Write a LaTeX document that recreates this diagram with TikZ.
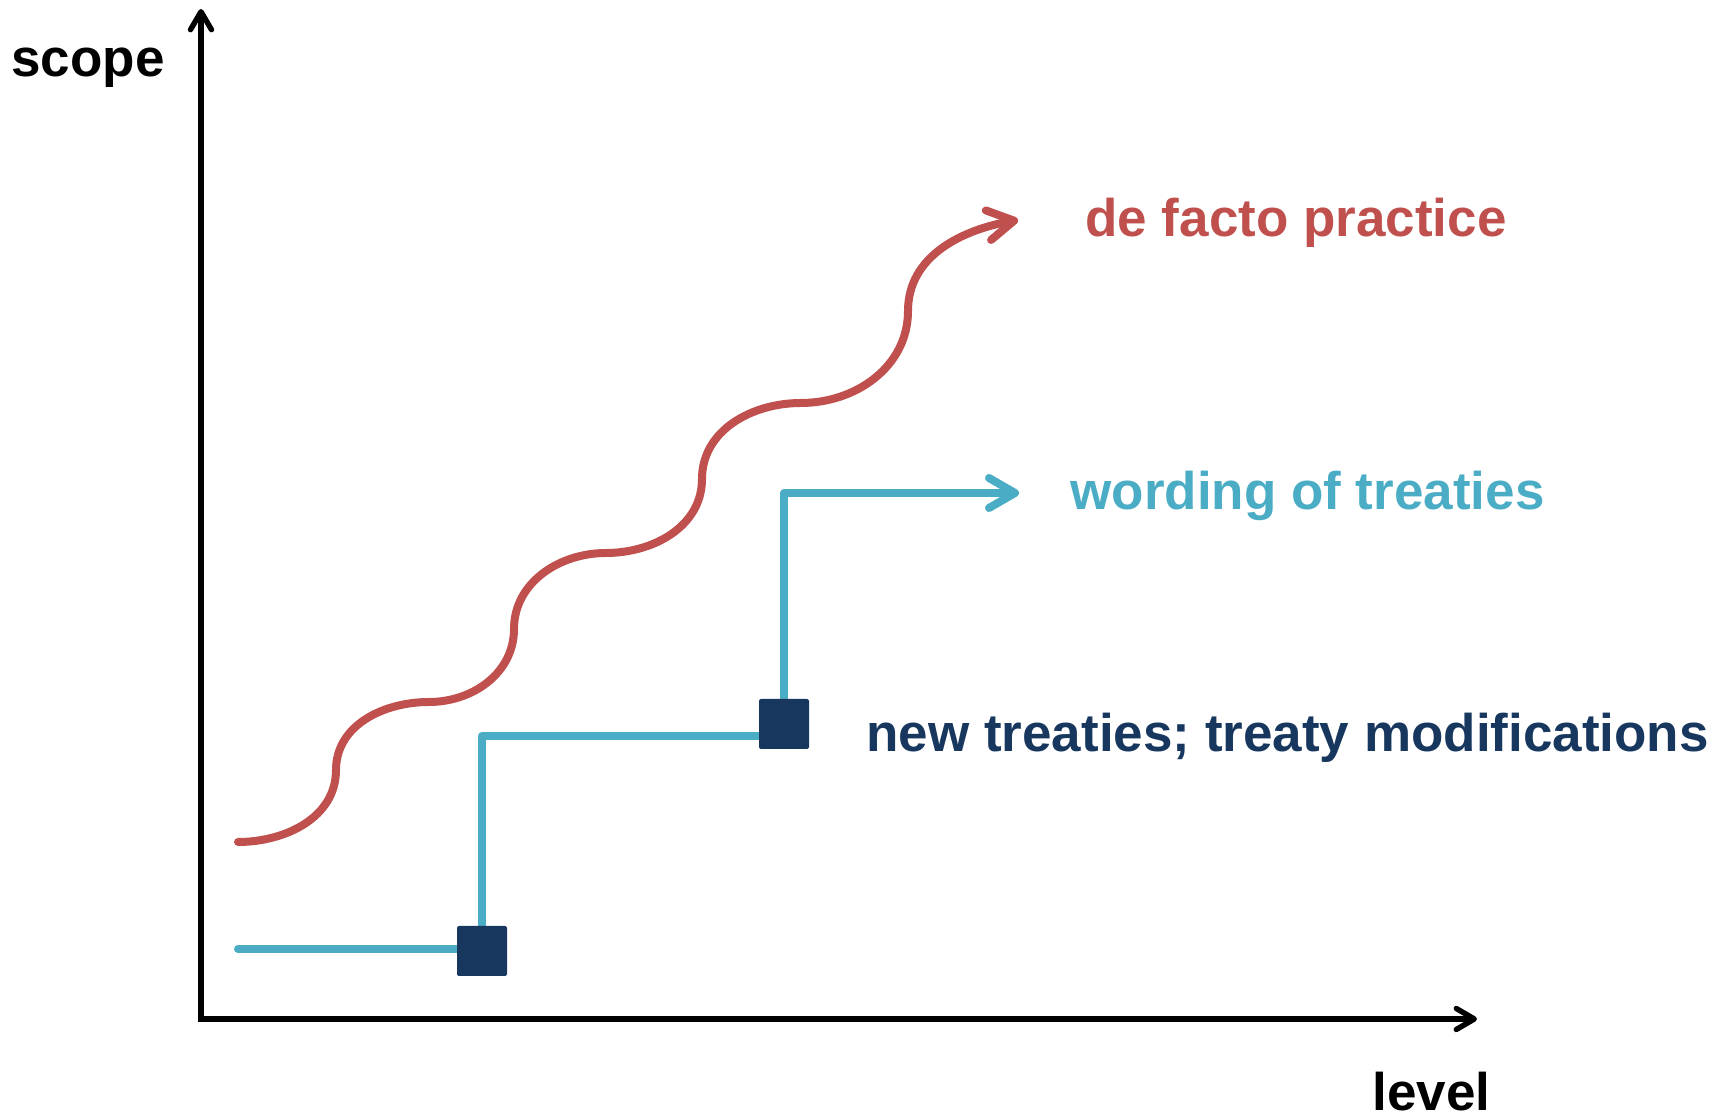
\documentclass[tikz,border=0pt]{standalone}
\usepackage{fontspec}
\setmainfont{Liberation Sans}
\usetikzlibrary{arrows.meta,backgrounds}
\definecolor{brick}{RGB}{192, 80, 77}
\definecolor{sky}{RGB}{75, 172, 198}
\definecolor{ink}{RGB}{23, 55, 94}

\begin{document}
\begin{tikzpicture}[
        x=0.5pt, y=0.5pt,
        lbl/.style={inner sep=0pt, anchor=base west,
            font=\bfseries\fontsize{26.5}{30}\selectfont},
        axis/.style={draw=black, line width=2.7pt, line cap=round, line join=miter,
            {Straight Barb[length=9pt, width=10.5pt, round]}-{Straight Barb[length=9pt, width=10.5pt, round]}},
        practice/.style={draw=brick, line width=4pt, line cap=round,
            -{Straight Barb[length=13pt, width=15pt, round]}},
        wording/.style={draw=sky, line width=4pt, line cap=round, line join=round,
            -{Straight Barb[length=13pt, width=15pt, round]}},
        treatybox/.style={fill=ink, minimum size=25pt, inner sep=0pt,
            rounded corners=1pt}
    ]
    \useasboundingbox (0,0) rectangle (1725,1119);

    % axes
    \coordinate (origin) at (201,100);
    \coordinate (ytop) at (201,1110);
    \coordinate (xend) at (1477,100);
    \draw[axis] (ytop) -- (origin) -- (xend);
    \node[lbl] (scopelbl) at (11,1042) {scope};
    \node[lbl] (levellbl) at (1372,8) {level};

    % de facto practice
    \coordinate (pstart) at (238,277);
    \coordinate (ptip) at (1018,899);
    \draw[practice] (pstart)
        to[out=0, in=-90] (336,349)
        to[out=90, in=180] (429,417)
        to[out=0, in=-90] (514,490)
        to[out=90, in=180] (606,566)
        to[out=0, in=-90] (702,640)
        to[out=90, in=180] (801,716)
        to[out=0, in=-90] (908,808)
        to[out=90, in=190] (ptip);
    \node[lbl, text=brick] (practicelbl) at (1085,882) {de facto practice};

    % wording of treaties
    \node[treatybox] (sqA) at (482,168) {};
    \node[treatybox] (sqB) at (784,395) {};
    \coordinate (wstart) at (238,170);
    \coordinate (wknee) at (483,383);
    \coordinate (wtip) at (1019,626);
    \begin{scope}[on background layer]
        \draw[wording] (wstart) -- (wstart -| sqA.center) -- (sqA.center |- wknee)
            -- (wknee -| sqB.center) -- (sqB.center |- wtip) -- (wtip);
    \end{scope}
    \node[lbl, text=sky] (wordinglbl) at (1070,609) {wording of treaties};
    \node[lbl, text=ink] (treatylbl) at (866,367) {new treaties; treaty modifications};

\end{tikzpicture}
\end{document}
